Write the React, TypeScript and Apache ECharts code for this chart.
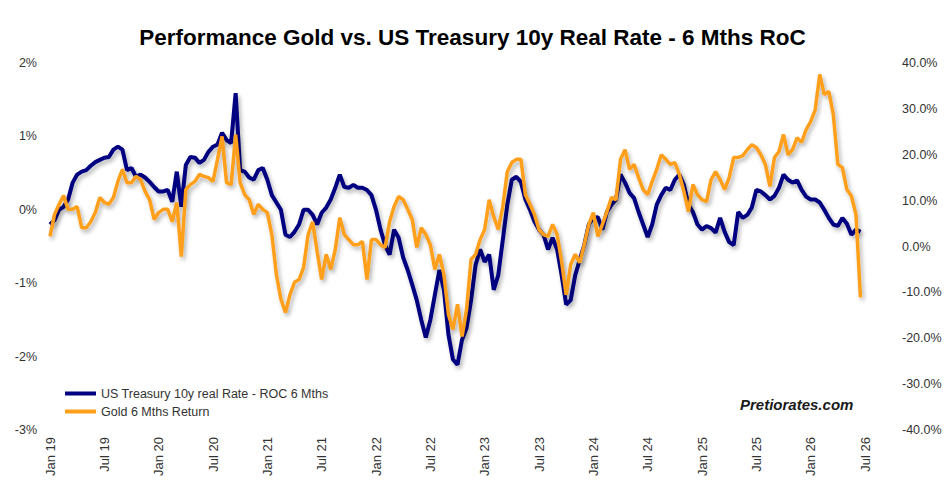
import { useEffect, useRef } from 'react'
import * as echarts from 'echarts'

// one value every half month, starting Jan 2019
const stepMonths = 0.5

const xTickLabels = [
  'Jan 19', 'Jul 19', 'Jan 20', 'Jul 20', 'Jan 21', 'Jul 21', 'Jan 22', 'Jul 22',
  'Jan 23', 'Jul 23', 'Jan 24', 'Jul 24', 'Jan 25', 'Jul 25', 'Jan 26', 'Jul 26'
]

// US Treasury 10y real rate, 6 month change (%), left axis
const realRateRoc = [
  -0.20, -0.14, 0, 0.04, 0.14, 0.37, 0.48, 0.52, 0.54, 0.60, 0.65, 0.68,
  0.71, 0.72, 0.82, 0.86, 0.82, 0.54, 0.57, 0.45, 0.48, 0.44, 0.38, 0.31,
  0.25, 0.25, 0.27, 0.11, 0.52, 0.04, 0.61, 0.72, 0.71, 0.64, 0.68, 0.79,
  0.86, 0.89, 1.05, 0.95, 0.91, 1.59, 0.54, 0.52, 0.44, 0.41, 0.54, 0.57,
  0.41, 0.20, 0.10, 0, -0.34, -0.37, -0.30, -0.20, 0, 0, -0.07, -0.20,
  -0.04, 0.03, 0.14, 0.30, 0.48, 0.31, 0.30, 0.34, 0.30, 0.30, 0.27, 0.20,
  0, -0.27, -0.48, -0.61, -0.27, -0.38, -0.65, -0.82, -1.02, -1.23, -1.50, -1.74,
  -1.50, -1.16, -0.82, -1.09, -1.70, -2.04, -2.11, -1.77, -1.61, -1.23, -0.75, -0.54,
  -0.71, -0.61, -1.09, -0.89, -0.41, 0.07, 0.41, 0.45, 0.38, 0.14, 0, -0.16,
  -0.27, -0.34, -0.54, -0.38, -0.54, -0.89, -1.29, -1.23, -0.89, -0.68, -0.48, -0.20,
  -0.11, -0.10, -0.27, -0.03, 0.07, 0.14, 0.48, 0.37, 0.23, 0.16, -0.03, -0.20,
  -0.37, -0.20, 0.07, 0.20, 0.30, 0.27, 0.41, 0.48, 0.34, 0.07, -0.03, -0.20,
  -0.27, -0.22, -0.25, -0.31, -0.11, -0.30, -0.44, -0.48, -0.03, -0.11, -0.07, 0.03,
  0.27, 0.25, 0.20, 0.14, 0.19, 0.30, 0.48, 0.41, 0.37, 0.40, 0.27, 0.18,
  0.14, 0.14, 0.10, 0, -0.11, -0.20, -0.22, -0.11, -0.19, -0.34, -0.27, -0.30
]

// Gold 6 month return (%), right axis
const goldReturn = [
  2.2, 7.0, 9.2, 11.1, 8.1, 8.1, 8.7, 4.1, 4.1, 5.4, 7.4, 10.7,
  9.6, 9.2, 10.7, 14.2, 16.8, 13.9, 13.9, 15.3, 14.6, 12.0, 10.2, 5.9,
  7.4, 8.1, 8.1, 5.4, 9.6, -2.2, 12.4, 13.5, 14.2, 15.7, 15.3, 15.0,
  14.2, 19.0, 24.0, 13.9, 13.5, 24.4, 13.9, 11.3, 10.2, 7.0, 9.2, 8.1,
  7.4, 2.6, -6.1, -11.5, -14.4, -10.5, -7.8, -7.2, -4.6, 2.6, 5.4, -1.1,
  -7.2, -1.7, -5.0, -0.7, 6.3, 2.6, 1.5, 0.4, 0.4, 1.1, -7.2, 1.5,
  1.5, 0.4, -0.2, 5.4, 8.7, 10.9, 10.2, 8.1, 5.9, -0.2, 4.1, 2.6,
  0.4, -5.0, -1.7, -6.1, -14.8, -18.1, -12.6, -19.6, -13.7, -2.8, -1.7, 1.5,
  3.7, 10.2, 6.5, 3.7, 8.7, 16.3, 18.3, 19.0, 19.0, 11.3, 9.2, 7.0,
  3.7, 2.6, 2.2, 4.8, 2.6, -3.3, -10.5, -3.9, -1.7, -3.5, 0.4, 4.8,
  7.4, 2.2, 4.8, 7.6, 10.7, 10.2, 19.0, 21.1, 16.8, 17.9, 15.0, 12.4,
  11.3, 14.2, 16.8, 20.0, 19.0, 17.9, 18.3, 15.7, 12.0, 7.6, 13.5, 11.3,
  10.2, 9.8, 14.6, 16.3, 14.6, 12.4, 15.0, 19.4, 19.4, 19.8, 21.1, 22.2,
  21.6, 20.0, 17.9, 13.1, 19.4, 20.7, 24.4, 20.0, 21.1, 23.7, 22.7, 25.5,
  27.2, 29.8, 37.5, 33.1, 33.8, 28.8, 17.9, 17.2, 12.4, 11.0, 7.0, -11.1
]

const toPoints = (values: number[]) => values.map((v, i) => [i * stepMonths, v])

const font = "'Liberation Sans', Arial, sans-serif"

export default function App() {
  const chartRef = useRef<HTMLDivElement>(null)

  useEffect(() => {
    document.body.style.margin = '0'
    if (!chartRef.current) return
    const chart = echarts.init(chartRef.current, null, { renderer: 'svg' })

    const lineShadow = {
      shadowColor: 'rgba(0,0,0,0.3)',
      shadowBlur: 4,
      shadowOffsetX: 2,
      shadowOffsetY: 3
    }

    chart.setOption({
      animation: false,
      backgroundColor: '#fff',
      title: {
        text: 'Performance Gold vs. US Treasury 10y Real Rate - 6 Mths RoC',
        left: 'center',
        top: 26,
        padding: 0,
        textStyle: { fontSize: 22.5, fontWeight: 'bold', color: '#000', fontFamily: font }
      },
      legend: {
        orient: 'vertical',
        left: 60,
        top: 382,
        itemWidth: 31,
        itemHeight: 4,
        itemGap: 5,
        icon: 'rect',
        textStyle: { fontSize: 12.5, color: '#333', fontFamily: font },
        data: ['US Treasury 10y real Rate - ROC 6 Mths', 'Gold 6 Mths Return']
      },
      grid: { left: 50, right: 80, top: 63, bottom: 64 },
      xAxis: {
        type: 'value',
        min: 0,
        max: 90,
        interval: 6,
        axisLine: { show: false },
        axisTick: { show: false },
        splitLine: { show: false },
        axisLabel: {
          rotate: 90,
          margin: 7,
          fontSize: 13,
          color: '#333',
          fontFamily: font,
          formatter: (v: number) => xTickLabels[Math.round(v / 6)] ?? ''
        }
      },
      yAxis: [
        {
          type: 'value',
          position: 'left',
          min: -3,
          max: 2,
          interval: 1,
          axisLine: { show: false },
          axisTick: { show: false },
          splitLine: { show: false },
          axisLabel: {
            margin: 13,
            fontSize: 12.5,
            color: '#333',
            fontFamily: font,
            formatter: (v: number) => `${v}%`
          }
        },
        {
          type: 'value',
          position: 'right',
          min: -40,
          max: 40,
          interval: 10,
          axisLine: { show: false },
          axisTick: { show: false },
          splitLine: { show: false },
          axisLabel: {
            margin: 37,
            fontSize: 12.5,
            color: '#333',
            fontFamily: font,
            formatter: (v: number) => `${v.toFixed(1)}%`
          }
        }
      ],
      graphic: [
        {
          type: 'text',
          left: 740,
          top: 397,
          style: {
            text: 'Pretiorates.com',
            fontSize: 15,
            fontWeight: 'bold',
            fontStyle: 'italic',
            fontFamily: font,
            fill: '#1a1a1a',
            shadowColor: 'rgba(0,0,0,0.35)',
            shadowBlur: 3,
            shadowOffsetX: 2,
            shadowOffsetY: 2
          }
        }
      ],
      series: [
        {
          name: 'US Treasury 10y real Rate - ROC 6 Mths',
          type: 'line',
          yAxisIndex: 0,
          data: toPoints(realRateRoc),
          color: '#000080',
          symbol: 'none',
          lineStyle: { width: 4, color: '#000080', ...lineShadow }
        },
        {
          name: 'Gold 6 Mths Return',
          type: 'line',
          yAxisIndex: 1,
          data: toPoints(goldReturn),
          color: '#ff9f1a',
          symbol: 'none',
          lineStyle: { width: 3.5, color: '#ff9f1a', ...lineShadow }
        }
      ]
    })

    return () => {
      chart.dispose()
    }
  }, [])

  return <div ref={chartRef} style={{ width: 945, height: 494 }} />
}
